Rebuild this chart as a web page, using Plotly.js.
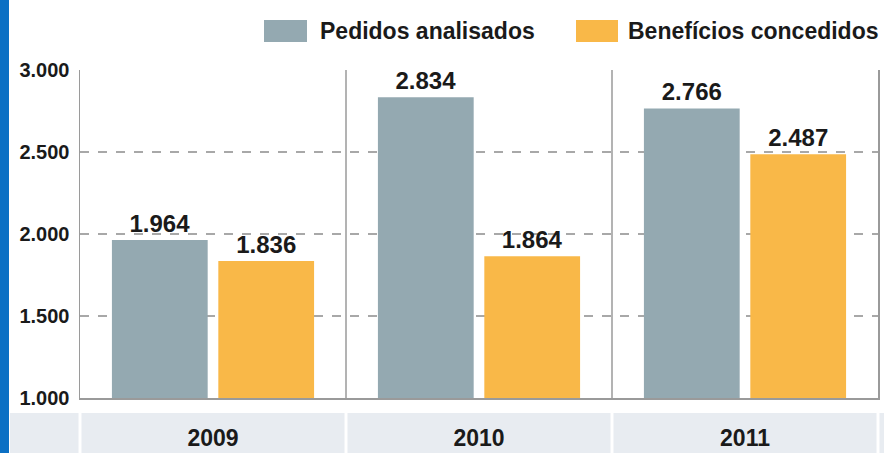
<!DOCTYPE html>
<html>
<head>
<meta charset="utf-8">
<script src="https://cdn.plot.ly/plotly-3.0.1.min.js"></script>
<style>
  html, body { margin: 0; padding: 0; background: #ffffff; }
  #chart { width: 884px; height: 453px; }
</style>
</head>
<body>
<div id="chart"></div>
<script>
// ---- data ----
var years = ['2009', '2010', '2011'];
var pedidosAnalisados = [1964, 2834, 2766];
var beneficiosConcedidos = [1836, 1864, 2487];
var seriesNames = ['Pedidos analisados', 'Benefícios concedidos'];
var yTicks = [1000, 1500, 2000, 2500, 3000];

// ---- style ----
var grayBar = '#94a9b1';
var orangeBar = '#f9b848';
var band = '#e8ecf1';
var blue = '#0b70c4';
var numFont = {family: 'Liberation Sans, Arial, sans-serif', size: 24, color: '#1a1a1a', weight: 700};
var legFont = {family: 'Liberation Sans, Arial, sans-serif', size: 23, color: '#1a1a1a', weight: 700};

// pixel helpers (plot area: x 80..878, y 70..398)
var L = 80, R = 6, T = 70, B = 55, W = 884, H = 453;
var pw = W - L - R, ph = H - T - B;
function px(x) { return (x - L) / pw; }
function py(y) { return (H - B - y) / ph; }

var traces = [
  {
    type: 'bar', x: years, y: pedidosAnalisados, name: seriesNames[0],
    marker: {color: grayBar}, texttemplate: '%{y:,}', textposition: 'outside',
    textfont: numFont, cliponaxis: false, hoverinfo: 'x+y+name'
  },
  {
    type: 'bar', x: years, y: beneficiosConcedidos, name: seriesNames[1],
    marker: {color: orangeBar}, texttemplate: '%{y:,}', textposition: 'outside',
    textfont: numFont, cliponaxis: false, hoverinfo: 'x+y+name'
  }
];

var shapes = [
  // blue stripe at left
  {type: 'rect', xref: 'paper', yref: 'paper', x0: px(0), x1: px(9), y0: py(H), y1: py(0),
   fillcolor: blue, line: {width: 0}, layer: 'below'},
  // bottom band
  {type: 'rect', xref: 'paper', yref: 'paper', x0: px(10), x1: px(W), y0: py(H), y1: py(413),
   fillcolor: band, line: {width: 0}, layer: 'below'},
  // white separators in the band
  {type: 'line', xref: 'paper', yref: 'paper', x0: 0, x1: 0, y0: py(H), y1: py(413),
   line: {color: '#ffffff', width: 3}},
  {type: 'line', xref: 'x', yref: 'paper', x0: 0.5, x1: 0.5, y0: py(H), y1: py(413),
   line: {color: '#ffffff', width: 3}},
  {type: 'line', xref: 'x', yref: 'paper', x0: 1.5, x1: 1.5, y0: py(H), y1: py(413),
   line: {color: '#ffffff', width: 3}},
  {type: 'line', xref: 'paper', yref: 'paper', x0: 1, x1: 1, y0: py(H), y1: py(413),
   line: {color: '#ffffff', width: 3}},
  // category separators in the plot
  {type: 'line', xref: 'x', yref: 'paper', x0: 0.5, x1: 0.5, y0: 0, y1: 1,
   line: {color: '#9a9a9a', width: 1.5}},
  {type: 'line', xref: 'x', yref: 'paper', x0: 1.5, x1: 1.5, y0: 0, y1: 1,
   line: {color: '#9a9a9a', width: 1.5}},
  // legend swatches
  {type: 'rect', xref: 'paper', yref: 'paper', x0: px(264), x1: px(307), y0: py(42), y1: py(20),
   fillcolor: grayBar, line: {width: 0}},
  {type: 'rect', xref: 'paper', yref: 'paper', x0: px(576), x1: px(618), y0: py(42), y1: py(20),
   fillcolor: orangeBar, line: {width: 0}}
];

var annotations = [
  {xref: 'paper', yref: 'paper', x: px(318), y: py(31), xanchor: 'left', yanchor: 'middle',
   text: seriesNames[0], showarrow: false, font: legFont},
  {xref: 'paper', yref: 'paper', x: px(626), y: py(31), xanchor: 'left', yanchor: 'middle',
   text: seriesNames[1], showarrow: false, font: legFont}
];

var layout = {
  width: W, height: H,
  margin: {l: L, r: R, t: T, b: B, pad: 0},
  paper_bgcolor: '#ffffff', plot_bgcolor: '#ffffff',
  separators: ',.',
  showlegend: false,
  barmode: 'group', bargap: 0.2, bargroupgap: 0.1,
  xaxis: {
    type: 'category', showgrid: false, zeroline: false,
    showline: true, linecolor: '#9a9a9a', linewidth: 1.5,
    ticks: '', ticklabelstandoff: 19,
    tickfont: {family: 'Liberation Sans, Arial, sans-serif', size: 23, color: '#1a1a1a', weight: 700}
  },
  yaxis: {
    range: [1000, 3000], tickvals: yTicks, tickformat: ',',
    showgrid: true, gridcolor: '#a8a8a8', griddash: 'dash', gridwidth: 1.5,
    zeroline: false, showline: true, mirror: true, linecolor: '#9a9a9a', linewidth: 1.5,
    ticks: '', ticklabelstandoff: 5,
    tickfont: {family: 'Liberation Sans, Arial, sans-serif', size: 20, color: '#1a1a1a', weight: 700}
  },
  shapes: shapes,
  annotations: annotations
};

Plotly.newPlot('chart', traces, layout, {displayModeBar: false, staticPlot: true});
</script>
</body>
</html>
